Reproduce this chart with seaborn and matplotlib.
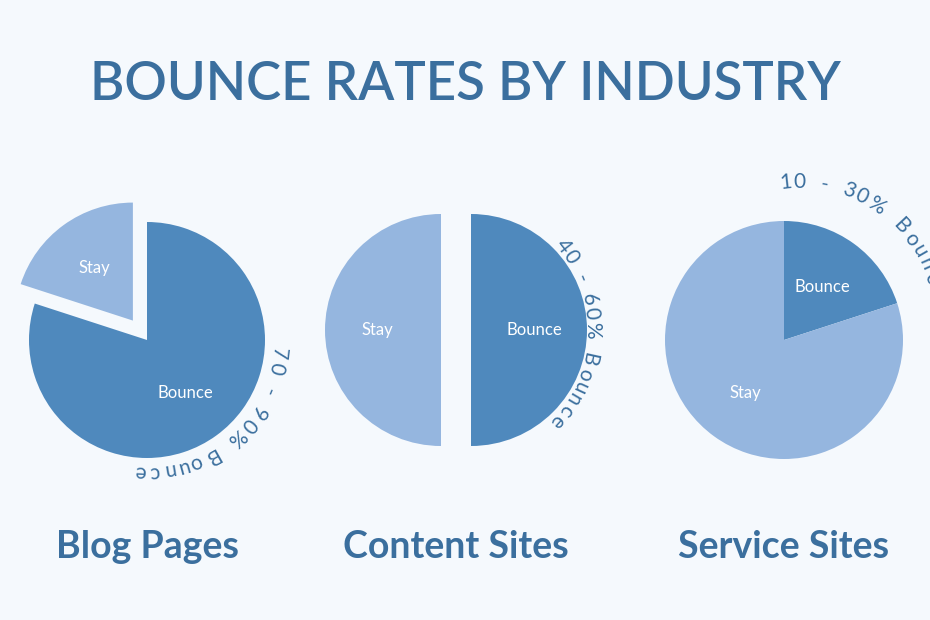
import matplotlib
matplotlib.use("Agg")
import matplotlib.pyplot as plt
import seaborn as sns
import numpy as np

sns.set_theme(style="white")
plt.rcParams['font.family'] = ['Lato', 'DejaVu Sans']

title = "BOUNCE RATES BY INDUSTRY"
industries = ["Blog Pages", "Content Sites", "Service Sites"]
bounce = [80, 50, 20]
stay = [20, 50, 80]
arc_labels = ["70 - 90% Bounce", "40 - 60% Bounce", "10 - 30% Bounce"]

C_B = "#4f89bd"; C_S = "#95b6df"; TXT = "#3b6f9e"; BG = "#f5f9fd"

fig = plt.figure(figsize=(9.3, 6.2), dpi=100, facecolor=BG)
ax = fig.add_axes([0, 0, 1, 1])
ax.set_facecolor(BG)

centers = [(147, 280), (456, 290), (784, 280)]
radii = [118, 116, 119]
explodes = [(0, 24), (15, 15), (0, 0)]
for i in range(3):
    ax.pie([bounce[i], stay[i]], labels=["Bounce", "Stay"], colors=[C_B, C_S],
           startangle=90, counterclock=False, center=centers[i], radius=radii[i],
           explode=explodes[i], labeldistance=0.55,
           wedgeprops=dict(linewidth=0),
           textprops=dict(color="white", fontsize=12, ha="center", va="center"),
           frame=True)
# Service: exploded bounce slice drawn with its own (smaller) radius, shifted
ax.set_xlim(0, 930); ax.set_ylim(0, 620); ax.set_aspect("equal"); ax.axis("off")

def arc_text(s, cx, cy, r, a0, a1, fs=15):
    w = np.array([0.45 if ch == " " else (0.9 if ch in "%BM" else 0.62) for ch in s])
    pos = np.concatenate([[0], np.cumsum((w[:-1] + w[1:]) / 2)])
    angs = a0 + (a1 - a0) * pos / pos[-1]
    for ch, a in zip(s, angs):
        if ch == " ":
            continue
        t = np.radians(a)
        ax.text(cx + r*np.cos(t), cy + r*np.sin(t), ch, rotation=a-90,
                rotation_mode="anchor", ha="center", va="center",
                fontsize=fs, color=TXT)

arc_text(arc_labels[0], 147, 280, 132, -6, -93)
arc_text(arc_labels[1], 456, 290, 136, 38, -42)
arc_text(arc_labels[2], 800, 300, 138, 96, 12)

ax.text(465, 535, title, ha="center", va="center", fontsize=38, color=TXT,
        fontweight="semibold")
for cx, name in zip([147, 456, 784], industries):
    ax.text(cx, 73, name, ha="center", va="center", fontsize=27,
            fontweight="bold", color=TXT)

fig.savefig("out.png", dpi=100, facecolor=BG)
